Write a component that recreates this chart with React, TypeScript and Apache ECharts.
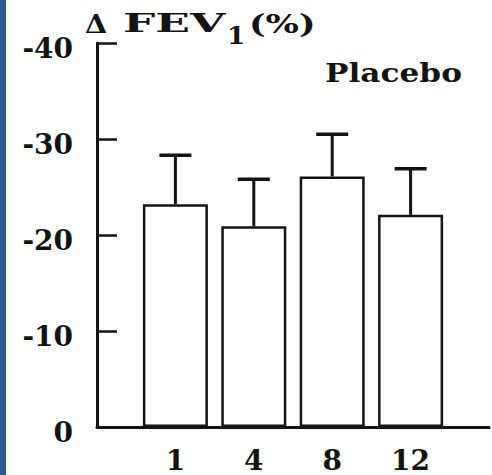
import React, { useEffect, useRef } from "react";
import * as echarts from "echarts";

// Weeks of treatment and the mean fall in FEV1 (%) with its SD
const weeks = ["1", "4", "8", "12"];
const meanChange = [-23.2, -20.9, -26.1, -22.1];
const sdChange = [5.1, 4.9, 4.4, 4.8];
const yTicks = [0, -10, -20, -30, -40];

const FONT = "'DejaVu Serif', serif";
const INK = "#141414";

const titleText = (text: string, x: number, y: number, scaleX: number, fontSize = 26) => ({
  type: "text",
  x,
  y,
  scaleX,
  style: {
    text,
    fontFamily: FONT,
    fontWeight: "bold",
    fontSize,
    fill: INK,
    verticalAlign: "bottom",
  },
});

export default function App() {
  const ref = useRef<HTMLDivElement>(null);

  useEffect(() => {
    if (!ref.current) return;
    const chart = echarts.init(ref.current, null, { renderer: "svg" });

    const barData = meanChange.map((v, i) => [i + 1, v]);
    const errData = meanChange.map((v, i) => [i + 1, v, v - sdChange[i]]);

    chart.setOption({
      animation: false,
      backgroundColor: "#ffffff",
      grid: { left: 97, right: 0, top: 43, bottom: 48, containLabel: false },
      xAxis: {
        type: "value",
        min: 0,
        max: 5,
        interval: 1,
        axisLine: { show: true, onZero: false, lineStyle: { color: INK, width: 3 } },
        axisTick: { show: false },
        splitLine: { show: false },
        axisLabel: {
          color: INK,
          fontFamily: FONT,
          fontWeight: "bold",
          fontSize: 28,
          margin: 19,
          formatter: (v: number) => weeks[v - 1] ?? "",
        },
      },
      yAxis: {
        type: "value",
        min: -40,
        max: 0,
        interval: 10,
        inverse: true,
        axisLine: { show: true, lineStyle: { color: INK, width: 3 } },
        axisTick: { show: true, inside: true, length: 20, lineStyle: { color: INK, width: 2.5 } },
        splitLine: { show: false },
        axisLabel: {
          color: INK,
          fontFamily: FONT,
          fontWeight: "bold",
          fontSize: 28,
          margin: 24,
          verticalAlign: "top",
          lineHeight: 10,
          formatter: (v: number) => (yTicks.includes(v) ? String(v) : ""),
        },
      },
      graphic: [
        { type: "rect", left: 0, top: 0, shape: { width: 6, height: 475 }, style: { fill: "#2c5a92" } },
        titleText("Δ", 85, 36, 1.1),
        titleText("FEV", 123, 36, 1.75),
        titleText("1", 227, 47, 1.1, 24),
        titleText("(%)", 249, 37, 1.35),
        titleText("Placebo", 325, 86, 1.2),
      ],
      series: [
        {
          type: "bar",
          data: barData,
          barWidth: 65,
          itemStyle: { color: "#ffffff", borderColor: INK, borderWidth: 2.5 },
          z: 2,
        },
        {
          type: "custom",
          data: errData,
          z: 3,
          renderItem: (_params: any, api: any) => {
            const top = api.coord([api.value(0), api.value(1)]);
            const tip = api.coord([api.value(0), api.value(2)]);
            const half = 16;
            return {
              type: "group",
              children: [
                {
                  type: "line",
                  shape: { x1: top[0], y1: top[1], x2: tip[0], y2: tip[1] },
                  style: { stroke: INK, lineWidth: 3 },
                },
                {
                  type: "line",
                  shape: { x1: tip[0] - half, y1: tip[1], x2: tip[0] + half, y2: tip[1] },
                  style: { stroke: INK, lineWidth: 3.5 },
                },
              ],
            };
          },
        },
      ],
    });

    return () => chart.dispose();
  }, []);

  return (
    <div
      ref={ref}
      style={{ position: "absolute", left: 0, top: 0, width: 492, height: 475 }}
    />
  );
}
